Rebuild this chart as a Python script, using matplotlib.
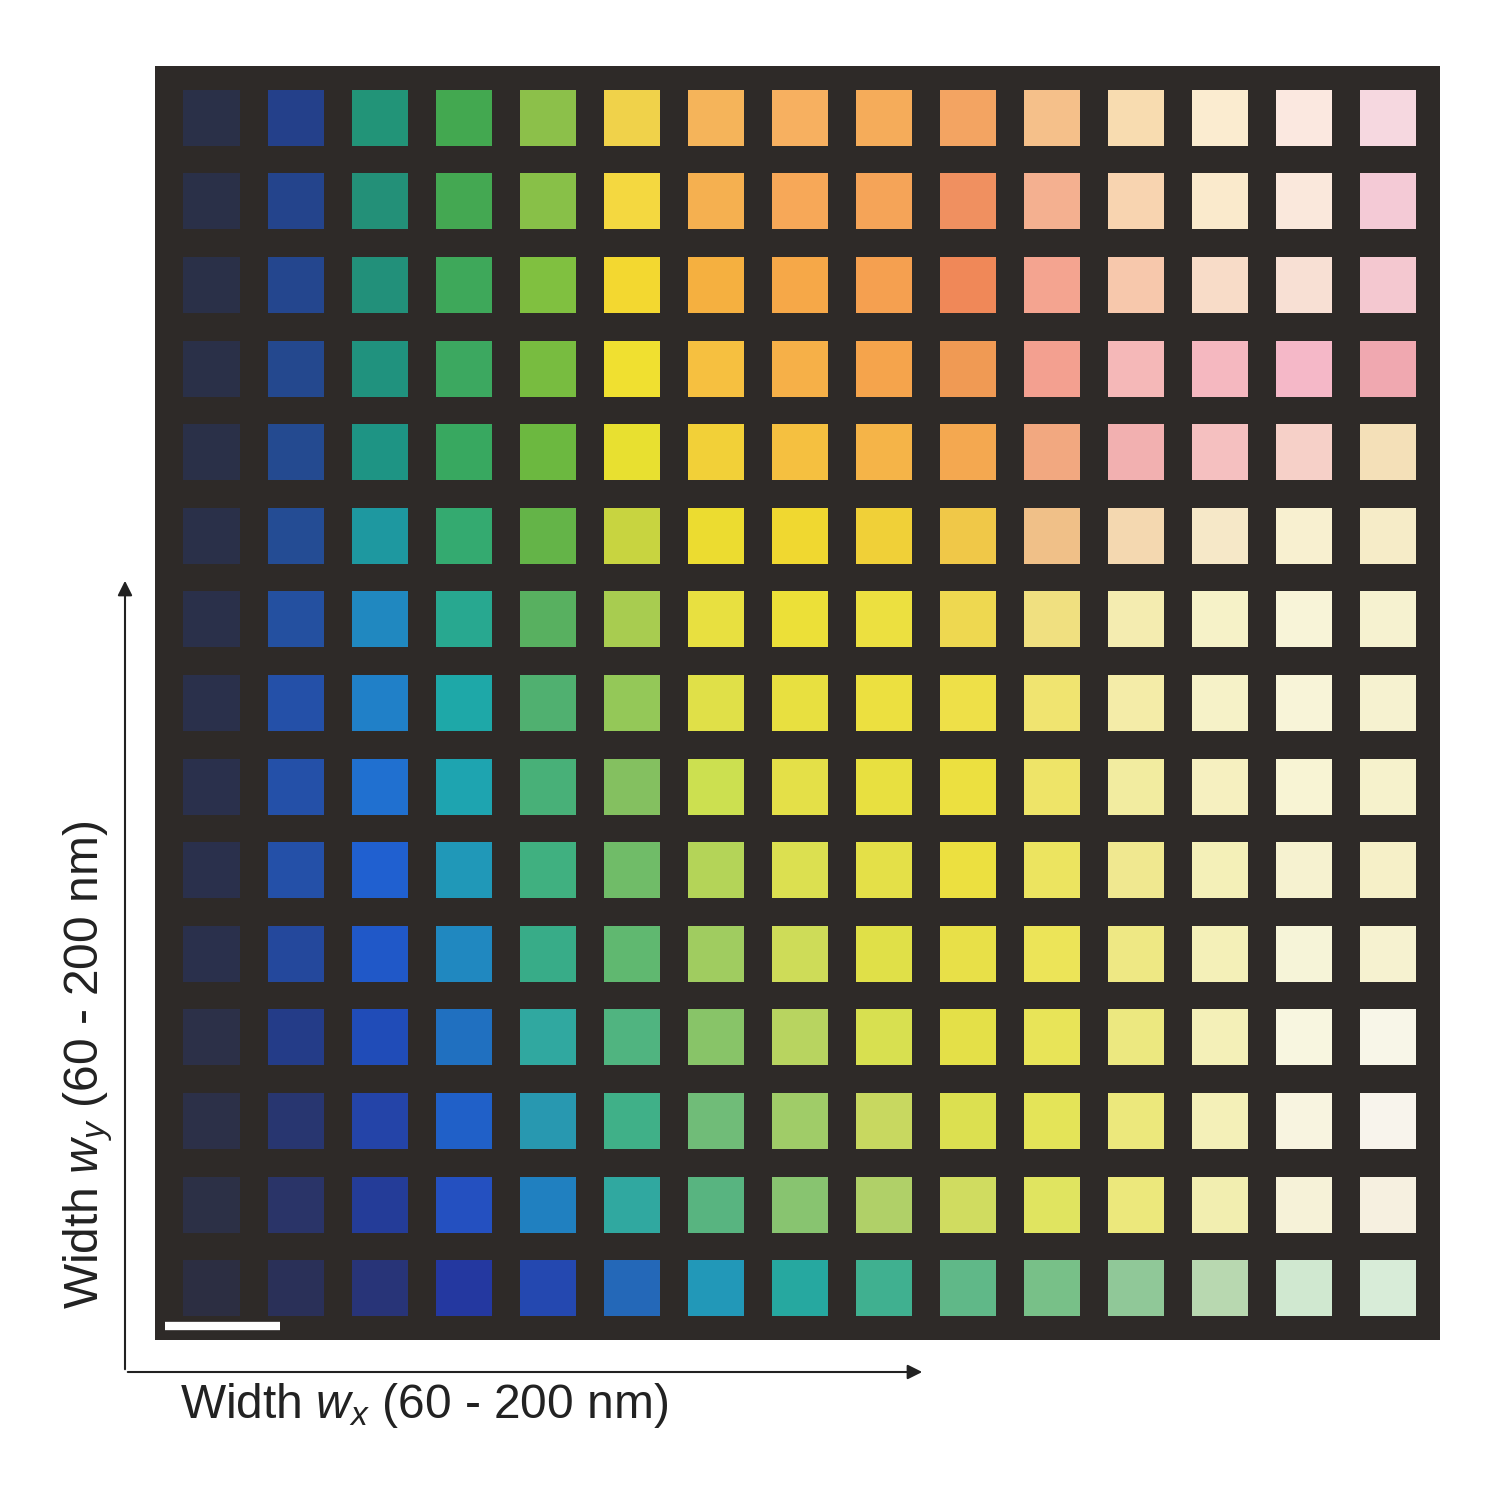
import matplotlib
matplotlib.use("Agg")
import matplotlib.pyplot as plt

plt.rcParams['font.family'] = ['Liberation Sans', 'DejaVu Sans']
plt.rcParams['mathtext.fontset'] = 'custom'
plt.rcParams['mathtext.it'] = 'Liberation Sans:italic'
plt.rcParams['mathtext.rm'] = 'Liberation Sans'

columns = list(range(15))
row_colors = [
 ["#2a3048","#24408a","#229478","#43a850","#8cc04a","#f0d24a","#f5b45a","#f7b060","#f5ac5a","#f3a462","#f5c08a","#f8dcb0","#fbecd0","#fbe8e0","#f6d8e0"],
 ["#2a3048","#24448c","#239078","#44a852","#88c048","#f4d840","#f5b050","#f7a858","#f5a458","#f09060","#f4b090","#f8d4b0","#faeacc","#fae8dc","#f4cad6"],
 ["#2a3048","#24468e","#22907a","#3ea85a","#80c040","#f3d830","#f5b040","#f6a848","#f5a050","#f08858","#f4a490","#f7c8ac","#f8dcc8","#f8e0d4","#f4c8d0"],
 ["#2a3048","#24488e","#20927e","#3ca860","#78bc40","#f0e030","#f6c040","#f6b048","#f5a44c","#f09a54","#f3a090","#f5b8b8","#f5b8c0","#f5b8c8","#f0a8b0"],
 ["#2a3048","#244a90","#1e9484","#38a860","#6cb840","#e8e030","#f2d038","#f5c040","#f5b448","#f4a850","#f2a880","#f2b0b0","#f5c0c0","#f6d0c8","#f4e0b8"],
 ["#2a3049","#244c94","#1e98a0","#34aa70","#64b448","#c8d440","#ecdc30","#f0d830","#f0d038","#f0c848","#f0c088","#f4d8b0","#f6e8c8","#f8f0d0","#f6ecc8"],
 ["#2a304a","#2450a0","#2088c0","#28a890","#58b060","#a8cc50","#e8e040","#ece038","#ece040","#eed850","#f0e080","#f4ecb0","#f6f2c8","#f8f4d8","#f6f2d0"],
 ["#2a304b","#2450a8","#2080c8","#1ea8a8","#50b070","#94c858","#e0e048","#e8e040","#ece040","#eee048","#f0e470","#f4eca8","#f6f2c8","#f8f4d8","#f6f2d0"],
 ["#2a304c","#2450a8","#2070d0","#1ea4b0","#48b078","#84c060","#cce050","#e4e048","#e8e040","#ece040","#eee468","#f2eca0","#f6f0c0","#f8f4d4","#f6f2cc"],
 ["#2a304c","#2450a8","#2060d0","#2098b8","#40b080","#70bc68","#b4d458","#dce050","#e4e048","#ece040","#ece460","#f0e890","#f4f0b8","#f6f2d0","#f6f0c8"],
 ["#2a304c","#24489c","#2058c8","#2088c0","#38ac88","#60b870","#a0cc60","#cedc58","#e0e048","#e8e048","#ece458","#eee884","#f4f0b8","#f6f4d8","#f6f2d0"],
 ["#2c3048","#243c88","#204cb8","#2070c0","#30a8a0","#50b480","#88c468","#b8d460","#d8e050","#e4e048","#e8e458","#ece880","#f4f0b8","#f8f6e0","#f8f6e8"],
 ["#2c3048","#283670","#2444a8","#2060c8","#2898b0","#40b088","#70bc78","#a0cc68","#c8d860","#dce050","#e4e458","#ece87c","#f4f0b8","#f8f4e0","#f8f4ec"],
 ["#2c3046","#2a3468","#243c98","#2450c0","#2080c0","#30a8a0","#58b480","#88c470","#b0d068","#d0dc60","#e0e460","#ece87c","#f2eeb0","#f6f2d8","#f6f0e0"],
 ["#2c2e42","#2a3058","#283478","#2438a0","#2448b0","#2468b8","#2298b8","#26a8a0","#40b090","#60b888","#78c088","#90c898","#b8d8b0","#d0e8d0","#d8ecd8"],
]
xlabel = "Width $w_x$ (60 - 200 nm)"
ylabel = "Width $w_y$ (60 - 200 nm)"

fig = plt.figure(figsize=(15, 14.85), dpi=100)
ax = fig.add_axes([0.103, 0.0976, 0.857, 0.858])
ax.set_facecolor("#2e2a28")
sz = 0.67
for r, cols in enumerate(row_colors):
    ax.bar(columns, sz, bottom=r - sz / 2, width=sz, color=cols, linewidth=0)
ax.set_xlim(-0.68, 14.62)
ax.set_ylim(14.62, -0.62)
ax.set_xticks([]); ax.set_yticks([])
for s in ax.spines.values():
    s.set_visible(False)
ax.plot([-0.56, 0.81], [14.45, 14.45], color="white", lw=6, solid_capstyle="butt")

x0, y0 = 125 / 1500, 1 - 1372 / 1485
fig.add_artist(matplotlib.patches.FancyArrowPatch((x0, y0), (925 / 1500, y0), transform=fig.transFigure,
               arrowstyle="-|>", mutation_scale=22, lw=1.5, color="#222"))
fig.add_artist(matplotlib.patches.FancyArrowPatch((x0, y0), (x0, 1 - 578 / 1485), transform=fig.transFigure,
               arrowstyle="-|>", mutation_scale=22, lw=1.5, color="#222"))
fig.text(180 / 1500, 1 - 1405 / 1485, xlabel, fontsize=34.5, va="center", ha="left", color="#222")
fig.text(88 / 1500, 1 - 1065 / 1485, ylabel, fontsize=34.5, rotation=90, va="center", ha="center", color="#222")
fig.savefig("out.png", dpi=100, facecolor="white")
